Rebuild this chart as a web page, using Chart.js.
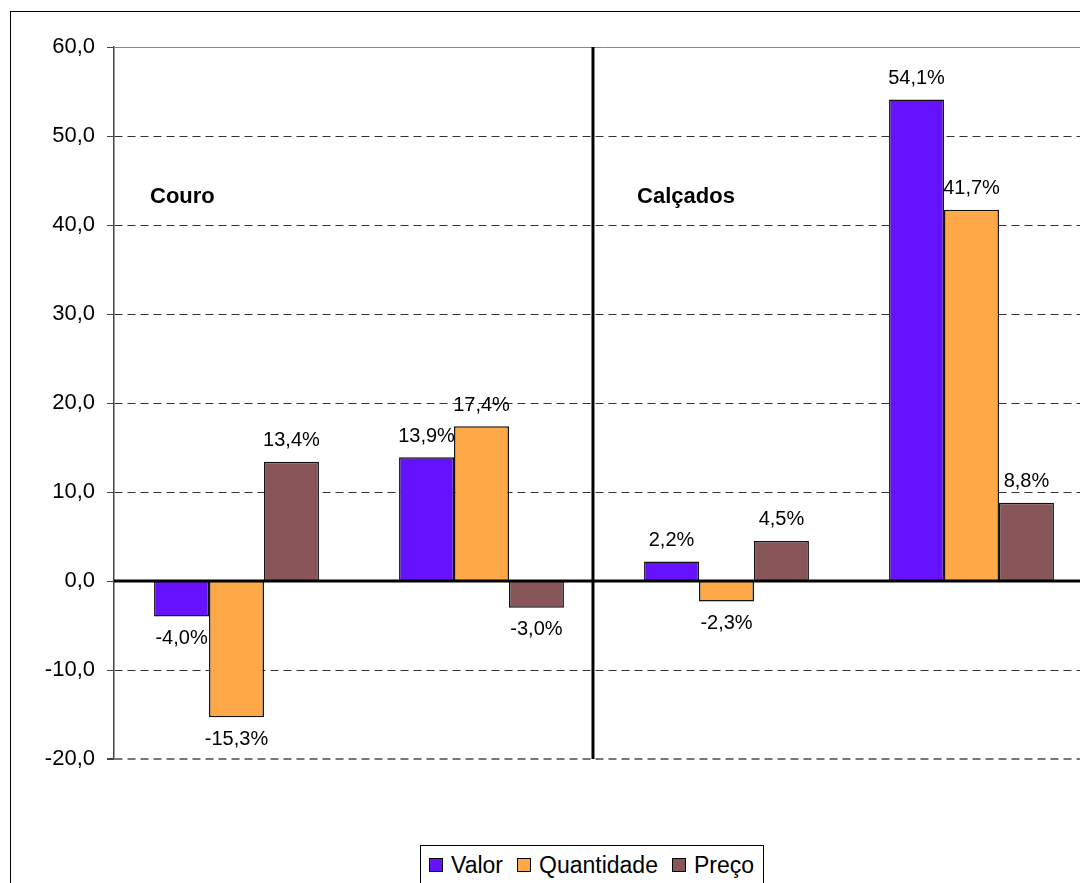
<!DOCTYPE html>
<html lang="pt">
<head>
<meta charset="utf-8">
<title>Couro e Calçados</title>
<script src="https://cdn.jsdelivr.net/npm/chart.js@4/dist/chart.umd.min.js"></script>
<style>
  html, body { margin: 0; padding: 0; background: #fff; overflow: hidden; }
  body { font-family: 'Liberation Sans', Arial, sans-serif; }
  #frame {
    position: absolute; left: 10px; top: 11px;
    width: 1200px; height: 1000px;
    border: 1.5px solid #000;
  }
  #wrap { position: absolute; left: 0; top: 0; width: 1110px; height: 883px; }
  #legend {
    position: absolute; left: 420px; top: 845px; height: 60px;
    border: 1.5px solid #000; background: #fff;
    display: flex; align-items: flex-start;
    padding: 6px 9px 0 8px;
    font-size: 23px; line-height: 26px; color: #000;
  }
  #legend .item { display: flex; align-items: center; margin-right: 14px; }
  #legend .item:last-child { margin-right: 0; }
  #legend .sw {
    width: 12px; height: 12px; border: 1.3px solid #000;
    margin-right: 8px; display: inline-block;
  }
</style>
</head>
<body>
<div id="frame"></div>
<div id="wrap"><canvas id="chart" width="1110" height="883"></canvas></div>
<div id="legend"></div>
<script>
const categories = ["Couro 1", "Couro 2", "Calçados 1", "Calçados 2"];
const seriesNames = ["Valor", "Quantidade", "Preço"];
const seriesColors = ["#6612FF", "#FFA848", "#885558"];
const valor = [-4.0, 13.9, 2.2, 54.1];
const quantidade = [-15.3, 17.4, -2.3, 41.7];
const preco = [13.4, -3.0, 4.5, 8.8];
const yTicks = { min: -20, max: 60, step: 10 };

// section titles and the divider, placed in scale units
const sections = [
  { text: "Couro", x: -0.353, y: 43.1 },
  { text: "Calçados", x: 1.635, y: 43.1 },
];
const dividerAt = 1.455;

const FONT = "'Liberation Sans', Arial, sans-serif";
const fmt = (v) => v.toFixed(1).replace(".", ",");

const extras = {
  id: "extras",
  afterDatasetsDraw(chart) {
    const { ctx, chartArea, scales } = chart;
    const x = scales.x, y = scales.y;
    const step = x.width / categories.length;
    ctx.save();

    // vertical divider between the two sections
    const dx = x.left + (dividerAt + 0.5) * step;
    ctx.strokeStyle = "#000";
    ctx.lineWidth = 3;
    ctx.beginPath();
    ctx.moveTo(dx, chartArea.top);
    ctx.lineTo(dx, chartArea.bottom);
    ctx.stroke();

    // zero line on top of the bars
    const zy = y.getPixelForValue(0);
    ctx.beginPath();
    ctx.moveTo(chartArea.left, zy);
    ctx.lineTo(chartArea.right, zy);
    ctx.stroke();

    // value labels
    ctx.fillStyle = "#000";
    ctx.font = "20px " + FONT;
    ctx.textAlign = "center";
    ctx.textBaseline = "middle";
    chart.data.datasets.forEach((ds, i) => {
      chart.getDatasetMeta(i).data.forEach((bar, j) => {
        const v = ds.data[j];
        const ly = v >= 0 ? bar.y - 21 : bar.y + 22;
        ctx.fillText(fmt(v) + "%", bar.x, ly);
      });
    });

    // section titles
    ctx.font = "bold 22px " + FONT;
    ctx.textAlign = "left";
    sections.forEach((s) => {
      ctx.fillText(s.text, x.left + (s.x + 0.5) * step, y.getPixelForValue(s.y));
    });
    ctx.restore();
  },
};

const seriesData = [valor, quantidade, preco];

const chart = new Chart(document.getElementById("chart"), {
  type: "bar",
  data: {
    labels: categories,
    datasets: seriesNames.map((name, i) => ({
      label: name,
      data: seriesData[i],
      backgroundColor: seriesColors[i],
      borderColor: "#111",
      borderWidth: 1.5,
    })),
  },
  options: {
    responsive: false,
    animation: false,
    datasets: { bar: { categoryPercentage: 0.673, barPercentage: 1 } },
    layout: { padding: { left: 0, right: 16, top: 47, bottom: 124 } },
    plugins: {
      tooltip: { enabled: false },
      legend: { display: false },
    },
    scales: {
      x: { display: false },
      y: {
        min: yTicks.min,
        max: yTicks.max,
        afterFit: (s) => { s.width = 114; },
        ticks: {
          stepSize: yTicks.step,
          padding: 12,
          color: "#000",
          font: { family: FONT, size: 22 },
          callback: (v) => fmt(v),
        },
        grid: {
          tickLength: 7,
          tickColor: "#444",
          tickBorderDash: [],
          color: (c) => (c.tick.value === yTicks.max ? "#888" : c.tick.value === yTicks.min ? "#777" : "#333"),
          lineWidth: (c) => (c.tick.value === yTicks.min ? 2 : 1),
        },
        border: {
          color: "#444",
          width: 1.5,
          dash: (c) => (c.tick && c.tick.value === yTicks.max ? [] : [8, 5]),
        },
      },
    },
  },
  plugins: [extras],
});

// legend row
document.getElementById("legend").innerHTML = chart.data.datasets
  .map(
    (ds) => `<span class="item"><span class="sw" style="background:${ds.backgroundColor}"></span>${ds.label}</span>`,
  )
  .join("");
</script>
</body>
</html>
